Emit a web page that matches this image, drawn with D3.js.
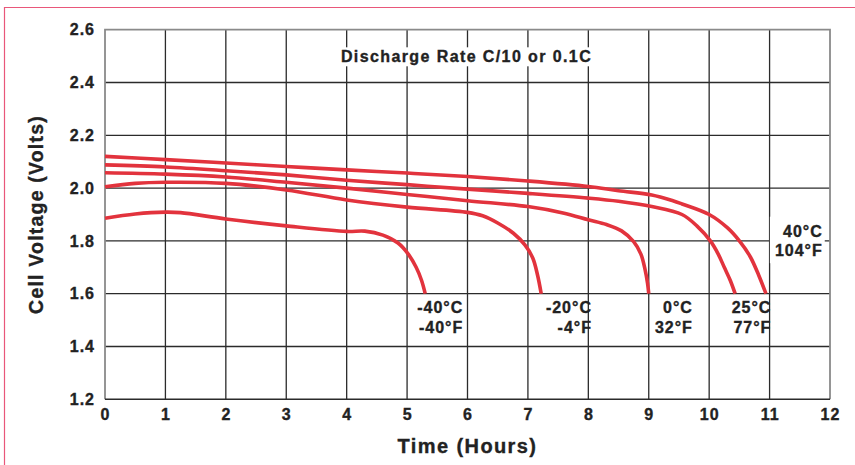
<!DOCTYPE html>
<html>
<head>
<meta charset="utf-8">
<script src="https://cdn.jsdelivr.net/npm/d3@7"></script>
<style>
  body { margin: 0; background: #fff; }
  svg { display: block; font-family: "Liberation Sans", Arial, sans-serif; font-weight: bold; }
  svg text { stroke: #222; stroke-width: 0.35px; }
</style>
</head>
<body>
<main></main>
<script>
// Discharge curves at C/10 for several temperatures

// Data
const xTicks = [0, 1, 2, 3, 4, 5, 6, 7, 8, 9, 10, 11, 12];
const yTicks = [1.2, 1.4, 1.6, 1.8, 2.0, 2.2, 2.4, 2.6];

const t40 = [0, 1, 2, 3, 4, 5, 6, 7, 8, 8.5, 9.05, 9.4, 9.55, 10.0, 10.3, 10.5, 10.68, 10.82, 10.94];
const v40 = [2.12, 2.108, 2.095, 2.082, 2.069, 2.057, 2.044, 2.027, 2.006, 1.99, 1.974, 1.952, 1.94, 1.9, 1.85, 1.8, 1.74, 1.67, 1.6];

const t25 = [0, 1, 2, 3, 4, 5, 6, 7, 8, 8.5, 9.05, 9.55, 9.8, 10.02, 10.15, 10.25, 10.35, 10.43];
const v25 = [2.088, 2.08, 2.066, 2.05, 2.03, 2.013, 1.996, 1.98, 1.962, 1.95, 1.93, 1.9, 1.856, 1.8, 1.75, 1.7, 1.65, 1.6];

const t0 = [0, 1, 2, 3, 4, 5, 6, 7, 7.6, 8, 8.3, 8.55, 8.75, 8.87, 8.94, 8.98, 9.0];
const v0 = [2.058, 2.053, 2.042, 2.022, 2.0, 1.976, 1.952, 1.93, 1.905, 1.88, 1.862, 1.838, 1.797, 1.75, 1.69, 1.64, 1.6];

const tm20 = [0, 0.5, 1, 2, 3, 4, 5, 6, 6.25, 6.5, 6.76, 6.95, 7.08, 7.16, 7.22];
const vm20 = [2.005, 2.018, 2.022, 2.018, 1.993, 1.955, 1.928, 1.908, 1.895, 1.868, 1.829, 1.785, 1.735, 1.67, 1.6];

const tm40 = [0, 0.5, 1.0, 1.25, 2, 3, 4, 4.3, 4.6, 4.85, 5.02, 5.15, 5.24, 5.3];
const vm40 = [1.886, 1.902, 1.909, 1.907, 1.883, 1.857, 1.836, 1.837, 1.822, 1.792, 1.75, 1.7, 1.65, 1.6];

const series = [
  { t: t40, v: v40 },
  { t: t25, v: v25 },
  { t: t0, v: v0 },
  { t: tm20, v: vm20 },
  { t: tm40, v: vm40 }
];

const labelC = ["40°C", "25°C", "0°C", "-20°C", "-40°C"];
const labelF = ["104°F", "77°F", "32°F", "-4°F", "-40°F"];

const chartTitle = "Discharge Rate C/10 or 0.1C";
const xTitle = "Time (Hours)";
const yTitle = "Cell Voltage (Volts)";

document.addEventListener('DOMContentLoaded', function(){

  const w = 855;
  const h = 465;
  const margin = { left: 105, right: 25, top: 29.7, bottom: 65.7 };
  const red = "#e2333d";

  const svg = d3.select("main")
    .append("svg")
    .attr("width", w)
    .attr("height", h);

  // pink frame
  svg.append("path")
    .attr("d", "M4.5,470 V7.5 H860")
    .attr("fill", "none")
    .attr("stroke", "#e9577a")
    .attr("stroke-width", 1.2);

  const x = d3.scaleLinear().domain([0, 12]).range([margin.left, w - margin.right]);
  const y = d3.scaleLinear().domain([1.2, 2.6]).range([h - margin.bottom, margin.top]);

  // grid
  const grid = svg.append("g");
  grid.selectAll("line.v")
    .data(xTicks.slice(1, -1))
    .enter()
    .append("line")
    .attr("x1", d => x(d)).attr("x2", d => x(d))
    .attr("y1", y(2.6)).attr("y2", y(1.2))
    .attr("stroke", "#2b2b2b")
    .attr("stroke-width", 1.3);
  grid.selectAll("line.h")
    .data(yTicks.slice(1, -1))
    .enter()
    .append("line")
    .attr("x1", x(0)).attr("x2", x(12))
    .attr("y1", d => y(d)).attr("y2", d => y(d))
    .attr("stroke", "#2b2b2b")
    .attr("stroke-width", 1.3);

  // frame of plot: grey top/left/right, dark bottom
  svg.append("path")
    .attr("d", `M${x(0)},${y(1.2)} V${y(2.6)} H${x(12)} V${y(1.2)}`)
    .attr("fill", "none")
    .attr("stroke", "#8a8a8a")
    .attr("stroke-width", 1.8);
  svg.append("line")
    .attr("x1", x(0)).attr("x2", x(12))
    .attr("y1", y(1.2)).attr("y2", y(1.2))
    .attr("stroke", "#2b2b2b")
    .attr("stroke-width", 1.4);

  // axes
  const xAxis = d3.axisBottom(x).tickValues(xTicks).tickSize(0).tickPadding(9).tickFormat(d3.format("d"));
  const yAxis = d3.axisLeft(y).tickValues(yTicks).tickSize(0).tickPadding(10).tickFormat(d3.format(".1f"));

  const gx = svg.append("g").attr("transform", `translate(0,${y(1.2)})`).call(xAxis);
  const gy = svg.append("g").attr("transform", `translate(${x(0)},0)`).call(yAxis);
  [gx, gy].forEach(g => {
    g.select(".domain").remove();
    g.selectAll("text")
      .attr("font-family", "Liberation Sans, Arial, sans-serif")
      .attr("font-weight", "bold")
      .attr("font-size", 16)
      .attr("letter-spacing", 1)
      .attr("fill", "#222");
  });

  // title with white box
  const tg = svg.append("g");
  const titleBox = tg.append("rect").attr("fill", "#fff");
  const titleText = tg.append("text")
    .attr("x", (x(0) + x(12)) / 2 - 1)
    .attr("y", 62.3)
    .attr("text-anchor", "middle")
    .attr("font-size", 16)
    .attr("letter-spacing", 1.4)
    .attr("fill", "#222")
    .text(chartTitle);
  const tb = titleText.node().getBBox();
  titleBox
    .attr("x", tb.x - 4).attr("y", tb.y - 1)
    .attr("width", tb.width + 8).attr("height", tb.height + 2);

  // curves
  const line = d3.line()
    .x(d => x(d[0]))
    .y(d => y(d[1]))
    .curve(d3.curveCatmullRom.alpha(0.5));

  svg.append("g")
    .selectAll("path")
    .data(series)
    .enter()
    .append("path")
    .attr("d", s => line(s.t.map((t, i) => [t, s.v[i]])))
    .attr("fill", "none")
    .attr("stroke", red)
    .attr("stroke-width", 3.6)
    .attr("stroke-linecap", "butt");

  // curve labels (right edge x in hours, first baseline in px)
  const labelPos = [
    { t: 11.88, yb: 236.7, box: true },
    { t: 11.03, yb: 313.3 },
    { t: 9.73, yb: 313.3 },
    { t: 8.06, yb: 313.3 },
    { t: 5.93, yb: 313.3 }
  ];

  const lg = svg.append("g");
  labelPos.forEach((p, i) => {
    const g = lg.append("g");
    const box = g.append("rect").attr("fill", "#fff");
    g.append("text")
      .attr("x", x(p.t)).attr("y", p.yb)
      .attr("text-anchor", "end")
      .attr("font-size", 16)
      .attr("letter-spacing", 1)
      .attr("fill", "#222")
      .text(labelC[i]);
    g.append("text")
      .attr("x", x(p.t)).attr("y", p.yb + 19.5)
      .attr("text-anchor", "end")
      .attr("font-size", 16)
      .attr("letter-spacing", 1)
      .attr("fill", "#222")
      .text(labelF[i]);
    if (p.box) {
      const b = g.node().getBBox();
      box.attr("x", b.x - 5).attr("y", b.y - 6)
        .attr("width", b.width + 7).attr("height", b.height + 10);
    }
  });

  // axis titles
  svg.append("text")
    .attr("x", (x(0) + x(12)) / 2)
    .attr("y", 453.3)
    .attr("text-anchor", "middle")
    .attr("font-size", 20)
    .attr("letter-spacing", 1.4)
    .attr("fill", "#222")
    .text(xTitle);

  svg.append("text")
    .attr("transform", `translate(42.5,${(y(1.2) + y(2.6)) / 2}) rotate(-90)`)
    .attr("text-anchor", "middle")
    .attr("font-size", 19.5)
    .attr("letter-spacing", 1.2)
    .attr("fill", "#222")
    .text(yTitle);
});
</script>
</body>
</html>
